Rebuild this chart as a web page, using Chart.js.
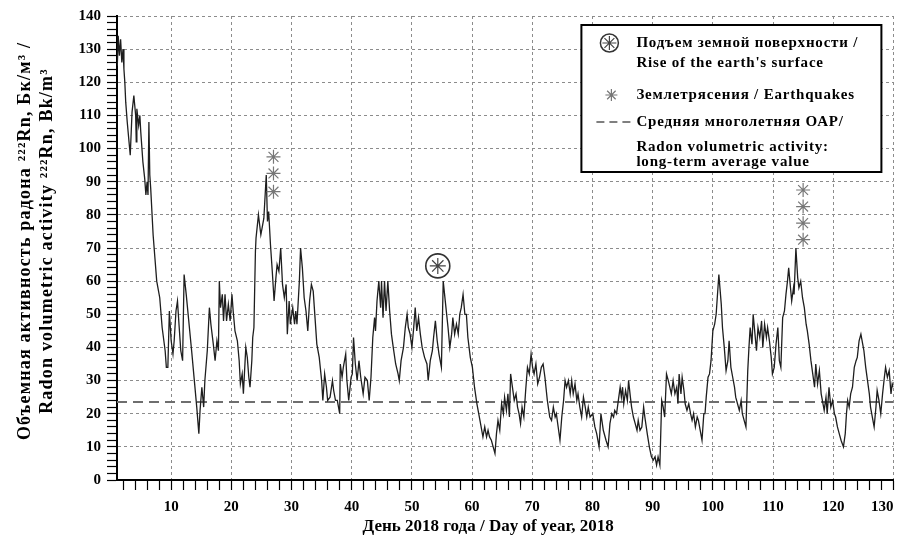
<!DOCTYPE html>
<html>
<head>
<meta charset="utf-8">
<script src="https://cdn.jsdelivr.net/npm/chart.js@4.4.1/dist/chart.umd.min.js"></script>
<style>
  html, body { margin: 0; padding: 0; background: #fff; }
  #wrap { width: 907px; height: 545px; position: relative; }
</style>
</head>
<body>
<div id="wrap"><canvas id="radonChart"></canvas></div>
<script>
// day of year (2018) and radon volumetric activity, Bq/m3
const days = [
  1.05, 1.2, 1.4, 1.6, 1.8, 2.0, 2.15, 2.3, 2.45, 2.7, 3.0, 3.2, 3.5, 3.8, 3.95, 4.1, 4.2, 4.3, 4.6, 4.8, 4.95,
  5.3, 5.6, 5.8, 6.0, 6.15, 6.3, 6.45, 6.6, 7.0, 7.3, 7.6, 8.1, 8.5, 9.0, 9.2, 9.45, 9.7,
  10.0, 10.3, 10.5, 10.8, 11.05, 11.3, 11.6, 11.9, 12.15, 12.5, 13.4, 13.9, 14.25, 14.6, 14.8, 15.1, 15.4, 15.6,
  16.0, 16.35, 16.6, 17.0, 17.3, 17.6, 17.85, 18.0, 18.2, 18.5, 18.7, 18.95, 19.2, 19.5, 19.8,
  20.1, 20.3, 20.6, 21.0, 21.3, 21.5, 21.8, 22.0, 22.4, 22.65, 22.9, 23.1, 23.4, 23.55, 23.75, 24.0, 24.1,
  24.5, 24.9, 25.2, 25.4, 25.8, 26.0, 26.2, 26.5, 26.8, 27.1, 27.4, 27.6, 27.9, 28.2, 28.5, 28.8, 29.1, 29.3, 29.6, 29.8,
  30.2, 30.5, 30.7, 30.9, 31.3, 31.5, 31.8, 32.1, 32.4, 32.7, 33.0, 33.3, 33.6, 33.9, 34.2, 34.6, 35.0, 35.2, 35.5, 35.8,
  36.0, 36.4, 36.8, 37.0, 37.3, 37.6, 38.0, 38.1, 38.4, 38.6, 39.0, 39.2, 39.5, 39.9,
  40.1, 40.3, 40.6, 40.9, 41.2, 41.5, 41.9, 42.2, 42.6, 42.9, 43.2, 43.5, 43.8, 43.95, 44.2, 44.5, 44.8, 44.95,
  45.2, 45.45, 45.7, 46.0, 46.3, 46.6, 46.9, 47.3, 47.7, 47.9, 48.2, 48.6, 48.9, 49.2, 49.4, 49.7,
  50.0, 50.3, 50.55, 50.8, 51.1, 51.4, 51.7, 52.1, 52.5, 52.7, 53.05, 53.4, 53.6, 53.9, 54.2, 54.5, 54.9,
  55.2, 55.6, 56.0, 56.3, 56.6, 56.8, 57.1, 57.4, 57.7, 57.95, 58.2, 58.5, 58.8, 59.05, 59.3, 59.7,
  60.05, 60.4, 60.8, 61.1, 61.5, 61.8, 62.1, 62.4, 62.65, 62.9, 63.2, 63.5, 63.8, 64.05, 64.3, 64.6, 64.9,
  65.2, 65.4, 65.7, 65.95, 66.2, 66.4, 66.7, 67.0, 67.3, 67.55, 67.8, 68.05, 68.3, 68.6, 68.9, 69.2, 69.5, 69.8,
  70.05, 70.3, 70.6, 70.9, 71.2, 71.5, 71.8, 72.1, 72.5, 72.9, 73.2, 73.5, 73.8, 74.0, 74.3, 74.6, 74.9,
  75.2, 75.45, 75.7, 76.0, 76.3, 76.55, 76.8, 77.1, 77.4, 77.6, 77.9, 78.2, 78.5, 78.8, 79.05, 79.3, 79.6,
  80.05, 80.4, 80.7, 81.1, 81.4, 81.8, 82.25, 82.6, 82.9, 83.2, 83.5, 83.7, 84.0, 84.3, 84.6, 84.8,
  85.0, 85.2, 85.5, 85.8, 86.0, 86.3, 86.5, 86.8, 87.1, 87.4, 87.6, 87.9, 88.2, 88.5, 88.7, 89.1, 89.45, 89.8,
  90.1, 90.4, 90.65, 90.9, 91.2, 91.5, 91.75, 92.0, 92.3, 92.6, 92.85, 93.1, 93.4, 93.7, 94.0, 94.2, 94.4, 94.7, 94.9,
  95.2, 95.4, 95.7, 96.0, 96.3, 96.55, 96.8, 97.1, 97.4, 97.6, 97.9, 98.2, 98.5, 98.7, 98.9, 99.2, 99.45, 99.7,
  100.0, 100.3, 100.55, 101.0, 101.4, 101.6, 101.9, 102.2, 102.5, 102.7, 103.0, 103.3, 103.6, 103.8, 104.1, 104.4, 104.7, 104.9,
  105.2, 105.5, 105.8, 106.0, 106.2, 106.5, 106.7, 107.0, 107.25, 107.5, 107.8, 108.1, 108.3, 108.6, 108.9, 109.1, 109.4, 109.7, 109.9,
  110.2, 110.5, 110.8, 111.05, 111.3, 111.6, 111.9, 112.15, 112.4, 112.6, 112.9, 113.1, 113.4, 113.5, 113.8, 114.1, 114.3, 114.6, 114.9,
  115.2, 115.5, 115.7, 116.0, 116.3, 116.6, 116.9, 117.1, 117.4, 117.7, 118.0, 118.2, 118.5, 118.8, 119.0, 119.3, 119.6, 119.9,
  120.2, 120.4, 120.7, 121.0, 121.3, 121.7, 122.0, 122.2, 122.4, 122.65, 122.9, 123.2, 123.5, 123.8, 124.0, 124.3, 124.6, 124.9,
  125.1, 125.4, 125.7, 126.0, 126.2, 126.5, 126.8, 127.1, 127.3, 127.6, 127.9, 128.2, 128.5, 128.7, 129.0, 129.3, 129.6, 129.8, 130
];
const radon = [
  125, 134, 128, 133, 126, 130, 124, 120, 114, 108, 102, 98, 111, 116, 113, 110, 102, 112, 107, 110, 105,
  96, 91, 86, 90, 86, 108, 92, 88, 74, 67, 60, 55, 46, 39, 34, 34, 51,
  42, 38, 42, 51, 54, 47, 39, 36, 62, 56, 39, 29, 22, 14, 21, 28, 22, 30,
  39, 52, 47, 41, 36, 42, 39, 60, 52, 56, 48, 56, 48, 53, 48,
  56, 51, 45, 42, 36, 29, 32, 26, 40, 37, 31, 28, 36, 43, 46, 69, 73,
  80, 74, 77, 79, 92, 78, 81, 71, 63, 54, 61, 65, 63, 70, 59, 55, 59, 44, 54, 47,
  52, 47, 51, 47, 60, 70, 64, 55, 51, 45, 54, 59, 57, 49, 41, 37, 30, 24, 32, 28,
  24, 25, 30, 27, 24, 24, 20, 35, 31, 34, 38, 30, 24, 31,
  32, 43, 35, 30, 36, 31, 26, 31, 30, 24, 31, 43, 49, 45, 54, 60, 52, 60,
  49, 60, 51, 60, 51, 44, 40, 35, 32, 30, 36, 40, 46, 50, 46, 44,
  40, 46, 52, 45, 49, 44, 40, 37, 35, 30, 36, 39, 43, 48, 42, 38, 34,
  60, 53, 46, 40, 44, 49, 44, 47, 44, 50, 52, 56, 50, 50, 43, 37,
  34, 28, 23, 20, 16, 13, 16, 13, 15, 13, 12, 10, 8, 14, 18, 15, 23,
  20, 25, 21, 26, 19, 32, 28, 24, 26, 22, 20, 17, 22, 19, 27, 34, 32, 38,
  34, 32, 35, 29, 31, 34, 35, 31, 24, 19, 18, 22, 19, 20, 16, 12, 19,
  24, 30, 28, 30, 26, 30, 26, 29, 24, 26, 22, 19, 25, 22, 19, 22, 19,
  20, 16, 14, 10, 20, 15, 12, 10, 17, 20, 19, 21, 20, 24, 28, 25,
  28, 23, 27, 24, 30, 25, 22, 19, 17, 15, 18, 15, 16, 22, 19, 14, 10, 7,
  6, 7, 4.5, 7, 4.5, 24, 22, 19, 32, 30, 28, 26, 30, 26, 28, 23, 32, 26, 31,
  27, 23, 21, 23, 20, 18, 20, 16, 19, 18, 15, 12, 20, 20, 25, 31, 32, 36,
  45, 47, 50, 62, 53, 46, 40, 33, 36, 42, 34, 31, 28, 25, 23, 21, 24, 20,
  18, 16, 33, 40, 46, 41, 50, 44, 39, 46, 43, 48, 40, 47, 43, 46, 42, 37, 32,
  34, 41, 46, 36, 34, 49, 51, 56, 60, 64, 58, 54, 58, 56, 70, 61, 58, 60, 55,
  52, 47, 45, 41, 36, 32, 28, 35, 29, 33, 26, 24, 21, 25, 20, 28, 22, 24,
  20, 19, 16, 14, 12, 10, 14, 20, 24, 22, 26, 28, 34, 36, 37, 42, 44, 41,
  39, 34, 30, 26, 22, 19, 16, 22, 27, 24, 20, 26, 31, 34, 31, 33, 26, 29, 28
];

const quakeDays = [27, 27, 27, 115, 115, 115, 115];
const quakeValues = [87, 92.5, 97.5, 72.5, 77.5, 82.5, 87.5];
const riseDays = [54.3];
const riseValues = [64.6];
const longTermAverage = 23.5;

const xLabelTicks = [10, 20, 30, 40, 50, 60, 70, 80, 90, 100, 110, 120, 130];
const yLabelTicks = [0, 10, 20, 30, 40, 50, 60, 70, 80, 90, 100, 110, 120, 130, 140];

const xMinorTicks = [];
for (let v = 2; v <= 130; v += 2) xMinorTicks.push(v);
const yMinorTicks = [];
for (let v = 0; v <= 140; v += 2) yMinorTicks.push(v);

const serif = '"Liberation Serif", "Times New Roman", serif';
const gridGray = '#8c8c8c';

// y axis titles, drawn by hand to get the wide letter spacing of the original
const axisTitles = {
  id: 'axisTitles',
  afterDraw(chart) {
    const ctx = chart.ctx;
    const area = chart.chartArea;
    const midY = (area.top + area.bottom) / 2;
    ctx.save();
    ctx.fillStyle = '#000';
    ctx.textAlign = 'center';
    ctx.textBaseline = 'middle';
    ctx.font = 'bold 18px ' + serif;
    ctx.letterSpacing = '1.2px';
    ctx.translate(25, midY - 7);
    ctx.rotate(-Math.PI / 2);
    ctx.fillText('Объемная активность радона ²²²Rn, Бк/м³ /', 0, 0);
    ctx.fillText('Radon volumetric activity ²²²Rn, Bk/m³', 0, 22);
    ctx.restore();
  }
};

const boxLegend = {
  id: 'boxLegend',
  afterDraw(chart) {
    const ctx = chart.ctx;
    const area = chart.chartArea;
    const left = area.right - 312, top = area.top + 9;
    const tx = left + 55;
    ctx.save();
    ctx.fillStyle = '#fff';
    ctx.fillRect(left, top, 300, 147);
    ctx.strokeStyle = '#000';
    ctx.lineWidth = 2;
    ctx.strokeRect(left, top, 300, 147);

    function star(x, y, r, color) {
      ctx.strokeStyle = color;
      ctx.lineWidth = 1.2;
      ctx.beginPath();
      for (let k = 0; k < 4; k++) {
        const a = k * Math.PI / 4;
        ctx.moveTo(x - r * Math.cos(a), y - r * Math.sin(a));
        ctx.lineTo(x + r * Math.cos(a), y + r * Math.sin(a));
      }
      ctx.stroke();
    }

    // circled star
    star(left + 28, top + 18, 7, '#444');
    ctx.beginPath();
    ctx.strokeStyle = '#333';
    ctx.lineWidth = 1.5;
    ctx.arc(left + 28, top + 18, 9, 0, Math.PI * 2);
    ctx.stroke();
    // earthquake star
    star(left + 30, top + 70, 6, '#777');
    // dashed line sample
    ctx.setLineDash([8, 5]);
    ctx.strokeStyle = '#555';
    ctx.lineWidth = 1.5;
    ctx.beginPath();
    ctx.moveTo(left + 15, top + 97);
    ctx.lineTo(left + 52, top + 97);
    ctx.stroke();
    ctx.setLineDash([]);

    ctx.fillStyle = '#000';
    ctx.textBaseline = 'middle';
    ctx.font = 'bold 15px ' + serif;
    ctx.letterSpacing = '0.8px';
    ctx.fillText('Подъем земной поверхности /', tx, top + 18);
    ctx.fillText("Rise of the earth's surface", tx, top + 38);
    ctx.fillText('Землетрясения / Earthquakes', tx, top + 70);
    ctx.fillText('Средняя многолетняя ОАР/', tx, top + 97);
    ctx.fillText('Radon volumetric activity:', tx, top + 122);
    ctx.fillText('long-term average value', tx, top + 137);
    ctx.restore();
  }
};

const ctx = document.getElementById('radonChart').getContext('2d');

new Chart(ctx, {
  type: 'line',
  data: {
    datasets: [
      {
        label: 'Radon',
        data: days.map((d, i) => ({ x: d, y: radon[i] })),
        borderColor: '#1e1e1e',
        borderWidth: 1.3,
        pointRadius: 0,
        tension: 0,
        order: 3
      },
      {
        label: 'Long-term average',
        data: [{ x: 1, y: longTermAverage }, { x: 130, y: longTermAverage }],
        borderColor: '#6e6e6e',
        borderWidth: 2,
        borderDash: [10, 6],
        pointRadius: 0,
        order: 4
      },
      {
        label: 'Earthquakes',
        data: quakeDays.map((d, i) => ({ x: d, y: quakeValues[i] })),
        showLine: false,
        pointStyle: 'star',
        pointRadius: 7,
        borderColor: '#777',
        borderWidth: 1.2,
        backgroundColor: 'transparent',
        order: 1
      },
      {
        label: 'Rise star',
        data: riseDays.map((d, i) => ({ x: d, y: riseValues[i] })),
        showLine: false,
        pointStyle: 'star',
        pointRadius: 8,
        borderColor: '#444',
        borderWidth: 1.2,
        order: 1
      },
      {
        label: 'Rise circle',
        data: riseDays.map((d, i) => ({ x: d, y: riseValues[i] })),
        showLine: false,
        pointStyle: 'circle',
        pointRadius: 12,
        borderColor: '#333',
        borderWidth: 1.6,
        backgroundColor: 'rgba(255,255,255,0)',
        order: 1
      }
    ]
  },
  options: {
    responsive: true,
    maintainAspectRatio: false,
    animation: false,
    layout: { padding: { top: 16, right: 13, left: 0, bottom: 0 } },
    plugins: {
      legend: { display: false },
      tooltip: { enabled: false }
    },
    scales: {
      x: {
        type: 'linear',
        min: 1,
        max: 130,
        afterBuildTicks: scale => { scale.ticks = xMinorTicks.map(v => ({ value: v })); },
        afterFit: scale => { scale.height = 65; },
        grid: {
          color: c => (c.tick && xLabelTicks.includes(c.tick.value)) ? gridGray : 'rgba(0,0,0,0)',
          tickColor: '#000',
          tickLength: 10,
          tickWidth: 1.2
        },
        border: { color: '#000', width: 2, dash: [3, 3] },
        ticks: {
          autoSkip: false,
          maxRotation: 0,
          align: 'inner',
          padding: 8,
          color: '#000',
          font: { family: serif, size: 15, weight: 'bold' },
          callback: v => xLabelTicks.includes(v) ? String(v) : ''
        },
        title: {
          display: true,
          text: 'День 2018 года / Day of year, 2018\u2003\u2003',
          color: '#000',
          font: { family: serif, size: 17, weight: 'bold', lineHeight: 1.2 },
          padding: { top: 0, bottom: 8 }
        }
      },
      y: {
        min: 0,
        max: 140,
        afterBuildTicks: scale => { scale.ticks = yMinorTicks.map(v => ({ value: v })); },
        afterFit: scale => { scale.width = 117; },
        grid: {
          color: c => (c.tick && yLabelTicks.includes(c.tick.value)) ? gridGray : 'rgba(0,0,0,0)',
          tickColor: '#000',
          tickLength: 10,
          tickWidth: 1.2
        },
        border: { color: '#000', width: 2, dash: [3, 3] },
        ticks: {
          autoSkip: false,
          padding: 6,
          color: '#000',
          font: { family: serif, size: 15, weight: 'bold' },
          callback: v => yLabelTicks.includes(v) ? String(v) : ''
        }
      }
    }
  },
  plugins: [axisTitles, boxLegend]
});
</script>
</body>
</html>
